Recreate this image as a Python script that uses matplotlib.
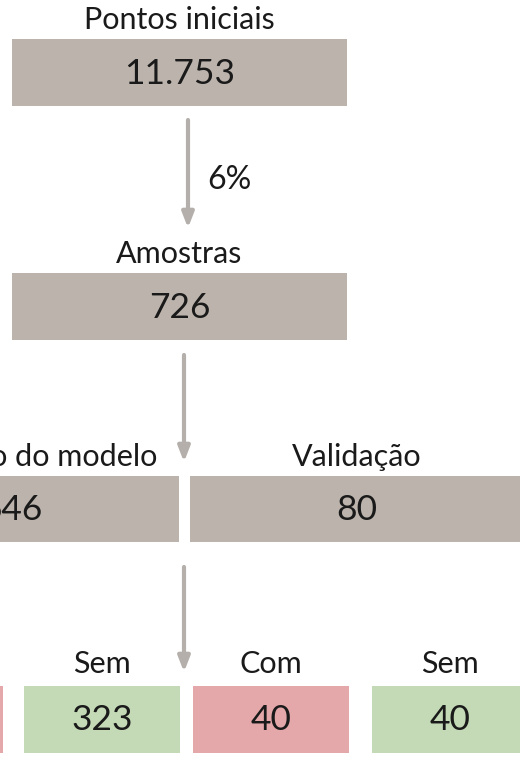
import matplotlib.pyplot as plt
from matplotlib.patches import Rectangle

# dados do fluxograma
titulos_topo = ['Pontos iniciais', 'Amostras']
valores_topo = ['11.753', '726']
pct_amostra = '6%'

titulos_meio = ['Calibração do modelo', 'Validação']
valores_meio = ['646', '80']

grupos_base = ['Com', 'Sem', 'Com', 'Sem']
valores_base = ['323', '323', '40', '40']

cinza = '#bcb4ac'
verde = '#c4dab6'
rosa = '#e4a8aa'
seta = '#b4afaa'

plt.rcParams['font.family'] = ['Lato', 'DejaVu Sans']

fig = plt.figure(figsize=(5.2, 7.57), dpi=100)
ax = fig.add_axes([0, 0, 1, 1])
ax.set_xlim(0, 520)
ax.set_ylim(757, 0)
ax.axis('off')


def caixa(x0, x1, y0, y1, cor, titulo, valor, ty, fs_val=25.5):
    ax.add_patch(Rectangle((x0, y0), x1 - x0, y1 - y0, facecolor=cor, edgecolor='none'))
    ax.text((x0 + x1) / 2, (y0 + y1) / 2 + 1, valor, ha='center', va='center',
            fontsize=fs_val, color='#1a1a1a')
    ax.text((x0 + x1) / 2, ty, titulo, ha='center', va='center',
            fontsize=22, color='#1a1a1a')


def flecha(x, y0, y1):
    ax.annotate('', xy=(x, y1), xytext=(x, y0),
                arrowprops=dict(arrowstyle='-|>,head_length=0.9,head_width=0.35',
                                lw=3, color=seta, shrinkA=0, shrinkB=0))


# nivel 1 e 2
caixa(12, 347, 39, 106, cinza, titulos_topo[0], valores_topo[0], 20)
flecha(188, 120, 228)
ax.text(207, 180, pct_amostra, ha='left', va='center', fontsize=23, color='#1a1a1a')
caixa(12, 347, 273, 340, cinza, titulos_topo[1], valores_topo[1], 254)
flecha(184, 355, 462)

# nivel 3
meio_x = [(-155, 179), (190, 524)]
for (x0, x1), t, v in zip(meio_x, titulos_meio, valores_meio):
    caixa(x0, x1, 476, 542, cinza, t, v, 457)
flecha(184, 567, 672)

# nivel 4
base_x = [(-153, 3), (24, 180), (193, 349), (372, 528)]
cores_base = [rosa, verde, rosa, verde]
for (x0, x1), g, v, c in zip(base_x, grupos_base, valores_base, cores_base):
    caixa(x0, x1, 686, 753, c, g, v, 664)

fig.savefig('out.png', dpi=100)
